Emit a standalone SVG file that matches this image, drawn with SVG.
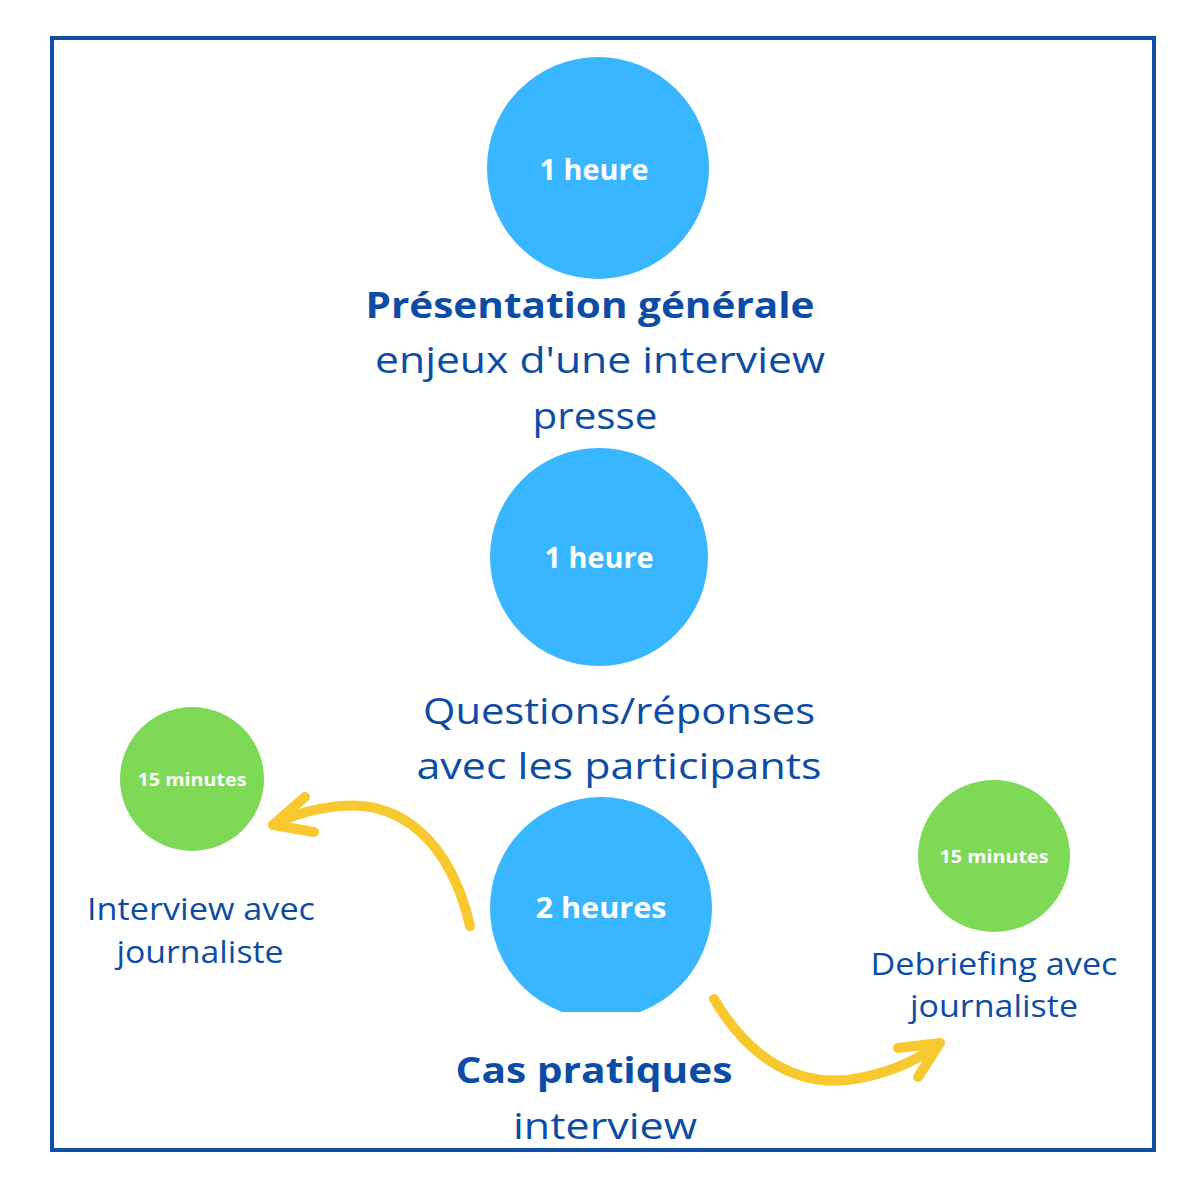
<svg xmlns="http://www.w3.org/2000/svg" width="1200" height="1200" viewBox="0 0 1200 1200">
<defs>
<clipPath id="cut"><rect x="480" y="780" width="240" height="232"/></clipPath>
</defs>
<style>
.big{fill:#38b6ff}
.small{fill:#7ed957}
.lbl{fill:#fff;font-family:"Open Sans","Liberation Sans",sans-serif;font-weight:700;text-anchor:middle}
.t{fill:#0b4da6;font-family:"Open Sans","Liberation Sans",sans-serif;text-anchor:middle}
.b{font-weight:700}
.arr{fill:none;stroke:#f8c92e;stroke-width:10;stroke-linecap:round;stroke-linejoin:round}
</style>
<rect x="0" y="0" width="1200" height="1200" fill="#fff"/>
<rect x="52" y="38" width="1102" height="1112" fill="none" stroke="#0d4ea7" stroke-width="4"/>
<g id="node-top">
<circle class="big" cx="598" cy="168" r="111"/>
<text class="lbl" x="594" y="180" font-size="28" textLength="109" lengthAdjust="spacingAndGlyphs">1 heure</text>
<text class="t b" x="590" y="318" font-size="36" textLength="449" lengthAdjust="spacingAndGlyphs">Présentation générale</text>
<text class="t" x="600" y="373" font-size="36" textLength="450" lengthAdjust="spacingAndGlyphs">enjeux d'une interview</text>
<text class="t" x="595" y="429" font-size="36" textLength="125" lengthAdjust="spacingAndGlyphs">presse</text>
</g>
<g id="node-middle">
<circle class="big" cx="599" cy="557" r="109"/>
<text class="lbl" x="599" y="568" font-size="28" textLength="109" lengthAdjust="spacingAndGlyphs">1 heure</text>
<text class="t" x="619" y="724" font-size="36" textLength="392" lengthAdjust="spacingAndGlyphs">Questions/réponses</text>
<text class="t" x="619" y="779" font-size="36" textLength="405" lengthAdjust="spacingAndGlyphs">avec les participants</text>
</g>
<g id="node-bottom">
<circle class="big" cx="601" cy="908" r="111" clip-path="url(#cut)"/>
<text class="lbl" x="601" y="918" font-size="28" textLength="131" lengthAdjust="spacingAndGlyphs">2 heures</text>
<text class="t b" x="594" y="1083" font-size="36" textLength="277" lengthAdjust="spacingAndGlyphs">Cas pratiques</text>
<text class="t" x="605" y="1139" font-size="36" textLength="184" lengthAdjust="spacingAndGlyphs">interview</text>
</g>
<g id="node-left">
<circle class="small" cx="192" cy="779" r="72"/>
<text class="lbl" x="192" y="786" font-size="18" textLength="109" lengthAdjust="spacingAndGlyphs">15 minutes</text>
<text class="t" x="201" y="920" font-size="31" textLength="228" lengthAdjust="spacingAndGlyphs">Interview avec</text>
<text class="t" x="200" y="963" font-size="31" textLength="167" lengthAdjust="spacingAndGlyphs">journaliste</text>
</g>
<g id="node-right">
<circle class="small" cx="994" cy="856" r="76"/>
<text class="lbl" x="994" y="863" font-size="18" textLength="109" lengthAdjust="spacingAndGlyphs">15 minutes</text>
<text class="t" x="994" y="975" font-size="31" textLength="247" lengthAdjust="spacingAndGlyphs">Debriefing avec</text>
<text class="t" x="994" y="1017" font-size="31" textLength="168" lengthAdjust="spacingAndGlyphs">journaliste</text>
</g>
<g id="connectors">
<path class="arr" d="M470,926 C450,840 400,800 340,806 C310,809 290,816 273,825"/>
<path class="arr" d="M305,797 L273,825 L314,832"/>
<path class="arr" d="M714,999 C750,1060 800,1090 860,1078 C900,1070 925,1055 940,1043"/>
<path class="arr" d="M898,1048 L940,1043 L918,1077"/>
</g>
</svg>
